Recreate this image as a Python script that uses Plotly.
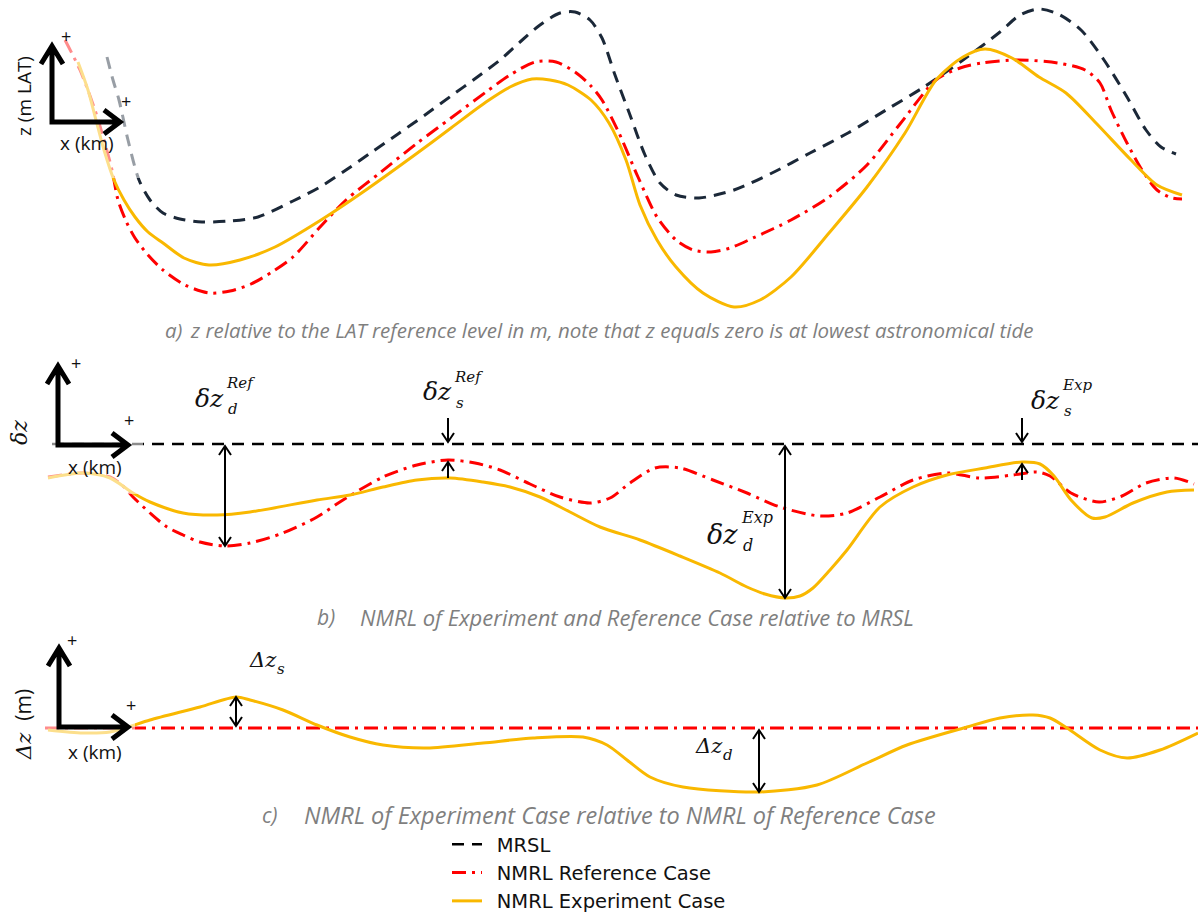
import plotly.graph_objects as go

W, H = 1198, 914

# ---------------- data ----------------
# a) water levels relative to LAT: chainage x (km), level z (m LAT)
a_mrsl_x = [10.7, 11.3, 11.9, 12.8, 13.9, 15.0, 16.3, 18.0, 20.2, 23.0, 25.8, 29.3, 32.0, 34.6, 37.2,
            39.8, 42.5, 45.1, 47.6, 50.0, 52.0, 54.0, 56.0, 57.5, 59.0, 60.2, 61.5, 63.0, 64.5, 66.0,
            67.6, 69.9, 73.4, 77.2, 81.0, 84.8, 88.6, 92.4, 96.3, 100.0, 102.0, 103.9, 105.8, 108.1,
            110.4, 112.7, 114.6, 116.1, 117.6]
a_mrsl_z = [2.63, 2.40, 2.20, 1.80, 1.40, 1.20, 1.07, 1.01, 0.98, 0.99, 1.03, 1.19, 1.33, 1.50, 1.68,
            1.86, 2.05, 2.24, 2.42, 2.60, 2.78, 2.95, 3.07, 3.08, 3.00, 2.82, 2.45, 2.05, 1.65, 1.37,
            1.25, 1.22, 1.30, 1.47, 1.67, 1.87, 2.10, 2.33, 2.60, 2.88, 3.05, 3.11, 3.06, 2.90,
            2.60, 2.23, 1.90, 1.73, 1.66]

a_ref_x = [6.5, 8.0, 9.5, 10.4, 11.2, 11.8, 12.6, 13.5, 14.8, 16.3, 18.5, 20.9, 23.0, 25.1, 27.2,
           29.3, 32.1, 34.6, 38.1, 41.6, 45.1, 48.6, 51.0, 53.5, 55.6, 57.5, 59.0, 60.2, 61.9, 63.8,
           65.7, 67.6, 69.3, 71.1, 73.0, 75.3, 79.1, 82.9, 86.7, 90.0, 93.6, 96.0, 98.2, 101.8,
           105.8, 108.5, 110.0, 111.1, 112.7, 114.2, 115.7, 117.2, 118.2]
a_ref_z = [2.80, 2.50, 2.10, 1.80, 1.50, 1.20, 0.99, 0.82, 0.65, 0.50, 0.35, 0.27, 0.29, 0.36, 0.48,
           0.63, 0.94, 1.20, 1.48, 1.76, 2.02, 2.28, 2.45, 2.58, 2.58, 2.48, 2.35, 2.20, 1.87, 1.43,
           1.03, 0.80, 0.70, 0.68, 0.72, 0.82, 1.00, 1.23, 1.55, 1.96, 2.40, 2.52, 2.57, 2.60,
           2.57, 2.50, 2.37, 2.10, 1.77, 1.50, 1.30, 1.22, 1.21]

a_exp_x = [7.8, 8.8, 9.6, 10.4, 11.4, 12.4, 13.5, 14.8, 16.3, 18.4, 20.9, 24.0, 27.5, 32.1, 36.3,
           41.6, 45.1, 48.6, 51.0, 53.2, 55.0, 56.8, 59.1, 60.9, 62.6, 64.0, 65.7, 67.6, 70.3, 73.4,
           76.0, 79.1, 82.9, 86.7, 90.5, 93.6, 96.3, 98.5, 101.2, 103.9, 106.6, 109.6, 113.1, 115.7,
           118.2]
a_exp_z = [2.58, 2.30, 2.00, 1.70, 1.40, 1.20, 1.03, 0.88, 0.77, 0.62, 0.55, 0.60, 0.73, 1.00, 1.28,
           1.66, 1.92, 2.18, 2.33, 2.41, 2.40, 2.35, 2.20, 1.97, 1.60, 1.15, 0.80, 0.53, 0.27, 0.13,
           0.20, 0.43, 0.87, 1.33, 1.87, 2.40, 2.63, 2.71, 2.62, 2.43, 2.27, 1.97, 1.60, 1.35,
           1.25]

# b) NMRL relative to MRSL: deviation dz (m)
b_mrsl_x = [5.2, 119.8]
b_mrsl_z = [0.0, 0.0]

b_ref_x = [4.8, 8.3, 11.0, 12.2, 13.3, 15.0, 16.7, 18.3, 20.0, 22.5, 25.0, 28.3, 31.7, 34.3, 38.3,
           41.7, 44.8, 47.5, 50.0, 53.0, 56.0, 59.0, 61.0, 63.0, 65.5, 68.0, 71.3, 74.7, 78.0, 82.0,
           84.7, 88.0, 91.3, 94.7, 98.0, 101.3, 103.7, 105.0, 107.1, 109.9, 112.2, 114.6, 117.4,
           119.4]
b_ref_z = [-0.33, -0.29, -0.33, -0.41, -0.53, -0.69, -0.83, -0.91, -0.98, -1.02, -0.99, -0.89, -0.73,
           -0.56, -0.33, -0.21, -0.16, -0.19, -0.26, -0.40, -0.53, -0.59, -0.54, -0.39, -0.24, -0.24,
           -0.36, -0.49, -0.63, -0.72, -0.69, -0.53, -0.36, -0.29, -0.34, -0.31, -0.28, -0.32, -0.49,
           -0.58, -0.52, -0.39, -0.34, -0.40]

b_exp_x = [4.8, 8.3, 11.0, 13.3, 15.0, 18.3, 21.7, 25.0, 31.7, 35.0, 38.3, 41.7, 45.0, 48.3, 51.0,
           54.0, 57.0, 60.0, 64.0, 68.0, 72.0, 74.7, 76.5, 78.5, 80.0, 81.3, 83.0, 84.7, 88.0, 91.3,
           94.7, 98.5, 102.2, 104.0, 105.4, 107.1, 109.2, 110.5, 113.3, 116.7, 119.4]
b_exp_z = [-0.34, -0.29, -0.34, -0.49, -0.58, -0.69, -0.71, -0.68, -0.56, -0.51, -0.43, -0.36, -0.34,
           -0.38, -0.43, -0.53, -0.68, -0.83, -0.96, -1.12, -1.29, -1.43, -1.50, -1.54, -1.52, -1.44,
           -1.26, -1.06, -0.63, -0.43, -0.31, -0.24, -0.18, -0.20, -0.32, -0.56, -0.74, -0.73, -0.59,
           -0.48, -0.46]

# c) NMRL of experiment relative to NMRL of reference: difference Dz (m)
c_ref_x = [4.5, 119.8]
c_ref_z = [0.0, 0.0]

c_exp_x = [4.8, 8.3, 11.0, 12.8, 15.0, 20.0, 23.6, 25.0, 28.3, 31.7, 35.0, 38.3, 42.7, 48.3, 53.3,
           58.3, 60.7, 62.7, 65.0, 68.3, 75.9, 81.7, 86.7, 90.7, 96.7, 100.0, 103.3, 105.0, 106.7,
           110.0, 112.7, 116.0, 119.8]
c_exp_z = [-0.02, -0.05, -0.04, 0.01, 0.08, 0.21, 0.31, 0.28, 0.18, 0.03, -0.09, -0.17, -0.20, -0.15,
           -0.10, -0.09, -0.17, -0.32, -0.49, -0.59, -0.64, -0.57, -0.35, -0.17, 0.01, 0.10, 0.13,
           0.10, 0.00, -0.22, -0.30, -0.22, -0.05]

legend_names = ["MRSL", "NMRL Reference Case", "NMRL Experiment Case"]

# ---------------- styling ----------------
NAVY = "#1b2838"
RED = "#ff0000"
GOLD = "#f9b800"
DASH_MRSL = "12px,8px"
DASH_REF = "14px,6px,3px,6px"

X_RANGE = [0, 119.8]
AXES = {
    "y":  dict(domain=[1 - 320 / H, 1], range=[0, 3.2]),
    "y2": dict(domain=[1 - 610 / H, 1 - 340 / H], range=[-1.66, 1.04]),
    "y3": dict(domain=[1 - 800 / H, 1 - 630 / H], range=[-0.72, 0.98]),
}
PX_PER_KM = W / (X_RANGE[1] - X_RANGE[0])


def px_per_m(yref):
    ax = AXES[yref]
    return H * (ax["domain"][1] - ax["domain"][0]) / (ax["range"][1] - ax["range"][0])


def line(x, z, yref, color, dash, width, name, legend=False):
    return go.Scatter(x=x, y=z, xaxis="x", yaxis=yref, mode="lines",
                      name="\u2002" + name if legend else name,
                      showlegend=legend, hoverinfo="skip",
                      line=dict(color=color, dash=dash, width=width, shape="spline", smoothing=0.8))


fig = go.Figure()
fig.add_trace(line(a_mrsl_x, a_mrsl_z, "y", NAVY, DASH_MRSL, 3, legend_names[0]))
fig.add_trace(line(a_ref_x, a_ref_z, "y", RED, DASH_REF, 3, legend_names[1]))
fig.add_trace(line(a_exp_x, a_exp_z, "y", GOLD, "solid", 3, legend_names[2]))
fig.add_trace(line(b_mrsl_x, b_mrsl_z, "y2", "#000000", DASH_MRSL, 2.6, legend_names[0], True))
fig.add_trace(line(b_ref_x, b_ref_z, "y2", RED, DASH_REF, 3, legend_names[1], True))
fig.add_trace(line(b_exp_x, b_exp_z, "y2", GOLD, "solid", 3, legend_names[2], True))
fig.add_trace(line(c_ref_x, c_ref_z, "y3", RED, DASH_REF, 3, legend_names[1]))
fig.add_trace(line(c_exp_x, c_exp_z, "y3", GOLD, "solid", 3, legend_names[2]))


def P(px, py):
    return px / W, 1 - py / H


shapes = []

# soften the line ends that sit behind each axis glyph
for (x0, y0, x1, y1) in [(40, 20, 143, 178), (40, 436, 143, 494), (40, 715, 135, 740)]:
    a0, b0 = P(x0, y1)
    a1, b1 = P(x1, y0)
    shapes.append(dict(type="rect", xref="paper", yref="paper", x0=a0, y0=b0, x1=a1, y1=b1,
                       fillcolor="white", opacity=0.55, line=dict(width=0), layer="above"))


def axis_glyph(cx, cy, top, right):
    pts = lambda seq: " L ".join("%.5f,%.5f" % P(a, b) for a, b in seq)
    path = ("M " + pts([(cx, top), (cx, cy), (right, cy)]) +
            " M " + pts([(cx - 11, top + 18), (cx, top), (cx + 11, top + 18)]) +
            " M " + pts([(right - 16, cy - 12), (right, cy), (right - 16, cy + 12)]))
    shapes.append(dict(type="path", xref="paper", yref="paper", path=path,
                       line=dict(color="black", width=5), layer="above"))


axis_glyph(52, 122, 46, 120)
axis_glyph(58, 445, 366, 128)
axis_glyph(59, 727, 648, 128)


def dim_arrow(x, z_tail, z_tip, yref, both=False):
    """Thin vertical arrow between two levels, open chevron heads."""
    hw = 6 / PX_PER_KM
    hl = 9 / px_per_m(yref)

    def head(z_t, z_o):
        s = 1 if z_t > z_o else -1
        return "M %.4f,%.4f L %.4f,%.4f L %.4f,%.4f" % (x - hw, z_t - s * hl, x, z_t, x + hw, z_t - s * hl)

    path = "M %.4f,%.4f L %.4f,%.4f " % (x, z_tail, x, z_tip) + head(z_tip, z_tail)
    if both:
        path += " " + head(z_tail, z_tip)
    shapes.append(dict(type="path", xref="x", yref=yref, path=path,
                       line=dict(color="black", width=2), layer="above"))


def extreme(xs, zs, lo, hi, fn):
    pts = [(x, z) for x, z in zip(xs, zs) if lo <= x <= hi]
    return fn(pts, key=lambda p: p[1])


gap_b = 2 / px_per_m("y2")
gap_c = 2 / px_per_m("y3")

# deepest points of the NMRL below MRSL
xr, zr = extreme(b_ref_x, b_ref_z, 15, 35, min)
dim_arrow(xr, -gap_b, zr, "y2", both=True)
xe, ze = extreme(b_exp_x, b_exp_z, 70, 90, min)
dim_arrow(xe, -gap_b, ze, "y2", both=True)

# shallowest points: external arrows pointing at MRSL and at the curve
for xs, zs, lo, hi in [(b_ref_x, b_ref_z, 35, 55), (b_exp_x, b_exp_z, 95, 108)]:
    xp, zp = extreme(xs, zs, lo, hi, max)
    dim_arrow(xp, 26 / px_per_m("y2"), gap_b, "y2")
    dim_arrow(xp, zp - 18 / px_per_m("y2"), zp - gap_b, "y2")

# experiment minus reference
xs_, zs_ = extreme(c_exp_x, c_exp_z, 15, 35, max)
dim_arrow(xs_, gap_c, zs_, "y3", both=True)
xd_, zd_ = extreme(c_exp_x, c_exp_z, 60, 90, min)
dim_arrow(xd_, -gap_c, zd_, "y3", both=True)

annotations = []
SANS = "Open Sans"
SERIF = "DejaVu Serif"


def text(px, py, s, size, family=SANS, color="#111111", anchor="center", angle=0, italic=False):
    x, y = P(px, py)
    annotations.append(dict(xref="paper", yref="paper", x=x, y=y, text=s, showarrow=False,
                            xanchor=anchor, yanchor="middle", textangle=angle,
                            font=dict(family=family, size=size, color=color,
                                      style="italic" if italic else "normal")))


# axis glyph labels
text(66, 36, "+", 18)
text(126, 101, "+", 18)
text(24, 96, "z (m LAT)", 19, angle=-90)
text(87, 143, "x (km)", 19)
text(76, 363, "+", 18)
text(129, 420, "+", 18)
text(20, 433, "δz", 22, family=SERIF, italic=True, angle=-90)
text(95, 467, "x (km)", 19)
text(72, 640, "+", 18)
text(131, 705, "+", 18)
text(23, 725, "Δz <span style='font-family:Open Sans;font-style:normal'> (m)</span>", 21,
     family=SERIF, italic=True, angle=-90)
text(95, 752, "x (km)", 19)


def math_label(px, py, base, sup, sub, size=25, small=15):
    text(px, py, base, size, family=SERIF, italic=True, anchor="left")
    xo = px + 0.66 * size * len(base)
    if sup:
        text(xo - 2, py - 0.6 * size, sup, small, family=SERIF, italic=True, anchor="left")
    if sub:
        text(xo, py + 0.42 * size, sub, small, family=SERIF, italic=True, anchor="left")


math_label(193, 398, "δz", "Ref", "d")
math_label(421, 392, "δz", "Ref", "s")
math_label(1029, 400, "δz", "Exp", "s")
math_label(705, 534, "δz", "Exp", "d", size=27, small=16)
math_label(247, 660, "Δz", None, "s", size=21, small=15)
math_label(693, 746, "Δz", None, "d", size=21, small=15)

# captions
CAP = "#7f7f7f"
CAPF = "Open Sans"
text(163, 330, "a)", 20.5, family=CAPF, color=CAP, anchor="left", italic=True)
text(188, 330, "z relative to the LAT reference level in m, note that z equals zero is at lowest astronomical tide",
     20.5, family=CAPF, color=CAP, anchor="left", italic=True)
text(315, 617, "b)", 21, family=CAPF, color=CAP, anchor="left", italic=True)
text(358, 617, "NMRL of Experiment and Reference Case relative to MRSL", 22, family=CAPF,
     color=CAP, anchor="left", italic=True)
text(260, 815, "c)", 21, family=CAPF, color=CAP, anchor="left", italic=True)
text(302, 815, "NMRL of Experiment Case relative to NMRL of Reference Case", 23.5, family=CAPF,
     color=CAP, anchor="left", italic=True)

hidden = dict(visible=False, showgrid=False, zeroline=False, fixedrange=True)
fig.update_layout(
    width=W, height=H, margin=dict(l=0, r=0, t=0, b=0, autoexpand=False),
    paper_bgcolor="white", plot_bgcolor="white",
    xaxis=dict(range=X_RANGE, domain=[0, 1], **hidden),
    yaxis=dict(anchor="x", **AXES["y"], **hidden),
    yaxis2=dict(anchor="x", **AXES["y2"], **hidden),
    yaxis3=dict(anchor="x", **AXES["y3"], **hidden),
    shapes=shapes, annotations=annotations,
    showlegend=True,
    legend=dict(x=447 / W, y=1 - 825 / H, xanchor="left", yanchor="top",
                font=dict(family="DejaVu Sans", size=19.5, color="#111111"),
                bgcolor="rgba(0,0,0,0)", tracegroupgap=0, itemwidth=30),
)

fig.write_html("out.html")
